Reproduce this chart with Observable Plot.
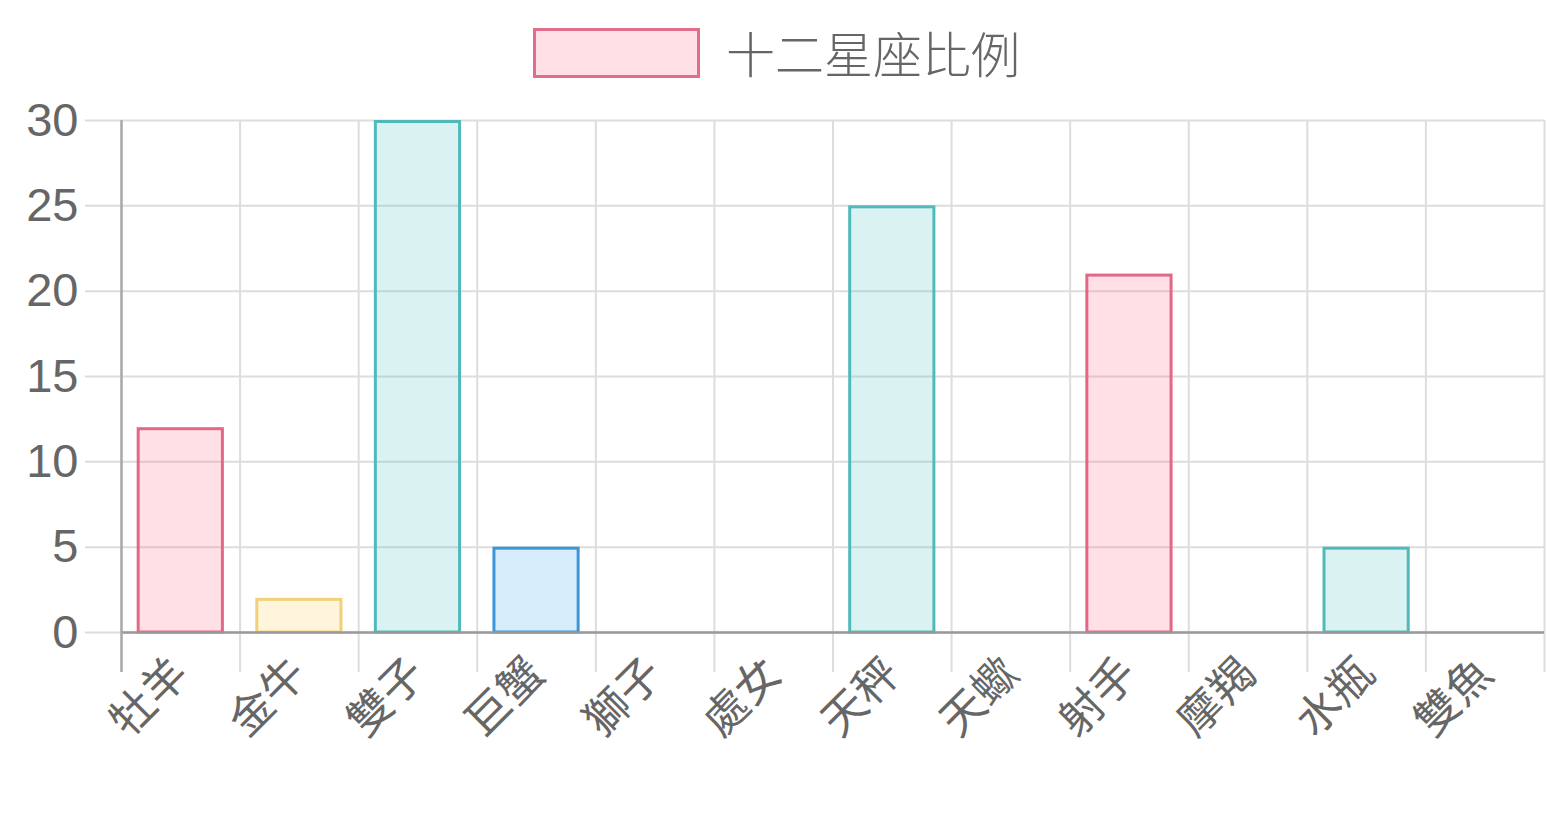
<!DOCTYPE html>
<html>
<head>
<meta charset="utf-8">
<script src="https://cdn.jsdelivr.net/npm/d3@7"></script>
<script src="https://cdn.jsdelivr.net/npm/@observablehq/plot@0.6"></script>
<style>
  html, body { margin: 0; padding: 0; background: #fff; }
  body { width: 1560px; font-family: "Liberation Sans", "Noto Sans CJK TC", sans-serif; }
  #legend { position: relative; height: 100px; }
  #legend .box { position: absolute; left: 533px; top: 28px; width: 161px; height: 44px; border: 3px solid rgb(224,110,138); background: rgba(255,99,132,0.2); }
  #legend .label { position: absolute; left: 726px; top: 20px; font-size: 49px; line-height: 64px; color: #666; font-weight: 300; font-family: "Noto Sans CJK TC", sans-serif; }
  #chart svg { display: block; }
</style>
</head>
<body>
<div id="legend"><div class="box"></div><div class="label">十二星座比例</div></div>
<div id="chart"></div>
<script>
const signs = ["牡羊", "金牛", "雙子", "巨蟹", "獅子", "處女", "天秤", "天蠍", "射手", "摩羯", "水瓶", "雙魚"];
const counts = [12, 2, 30, 5, 0, 0, 25, 0, 21, 0, 5, 0];
const fills = ["rgba(255,99,132,0.2)", "rgba(255,206,86,0.2)", "rgba(75,192,192,0.2)", "rgba(54,162,235,0.2)", "rgba(153,102,255,0.2)", "rgba(255,159,64,0.2)", "rgba(75,192,192,0.2)", "rgba(255,99,132,0.2)", "rgba(255,99,132,0.2)", "rgba(255,206,86,0.2)", "rgba(75,192,192,0.2)", "rgba(54,162,235,0.2)"];
const strokes = ["rgb(226,104,134)", "rgb(240,208,120)", "rgb(80,186,186)", "rgb(60,150,215)", "rgb(153,102,255)", "rgb(255,159,64)", "rgb(80,186,186)", "rgb(226,104,134)", "rgb(226,104,134)", "rgb(240,208,120)", "rgb(80,186,186)", "rgb(60,150,215)"];
const yTicks = [0, 5, 10, 15, 20, 25, 30];

const data = signs.map((s, i) => ({sign: s, count: counts[i], fill: fills[i], stroke: strokes[i]}));

const W = 1560, H = 720;
const mL = 121, mR = 16, mT = 20, mB = 188;
const step = (W - mL - mR) / signs.length;

const chart = Plot.plot({
  width: W,
  height: H,
  marginLeft: mL,
  marginRight: mR,
  marginTop: mT,
  marginBottom: mB,
  style: {fontFamily: "'Liberation Sans', 'Noto Sans CJK TC', sans-serif", color: "#666", background: "#fff", overflow: "visible"},
  x: {domain: signs, paddingInner: 0.29, paddingOuter: 0.145, round: false, label: null, axis: null},
  y: {domain: [0, 30], label: null},
  marks: [
    Plot.ruleY(yTicks, {stroke: "#ddd", strokeWidth: 2, insetLeft: -36}),
    Plot.ruleX(signs, {x: d => d, dx: -step / 2, stroke: "#ddd", strokeWidth: 2, insetBottom: -40}),
    Plot.ruleX(signs.slice(-1), {x: d => d, dx: step / 2, stroke: "#ddd", strokeWidth: 2, insetBottom: -40}),
    Plot.barY(data, {x: "sign", y: "count", fill: d => d.fill, stroke: d => d.stroke, strokeWidth: 3, insetTop: 1.5, insetBottom: 0}),
    Plot.ruleY([0], {stroke: "#999", strokeWidth: 2.5}),
    Plot.ruleX(signs.slice(0, 1), {x: d => d, dx: -step / 2, stroke: "#aaa", strokeWidth: 2.5, insetBottom: -40}),
    Plot.axisY({ticks: yTicks, tickSize: 0, tickPadding: 43, fontSize: 47, tickFormat: d => d, fill: "#666", label: null}),
    Plot.text(signs, {x: d => d, frameAnchor: "bottom", rotate: -45, textAnchor: "end", lineAnchor: "middle", dx: 0, dy: 34, fontSize: 44, fill: "#666", fontFamily: "'Noto Sans CJK TC', sans-serif"})
  ]
});
document.getElementById("chart").appendChild(chart);
</script>
</body>
</html>
